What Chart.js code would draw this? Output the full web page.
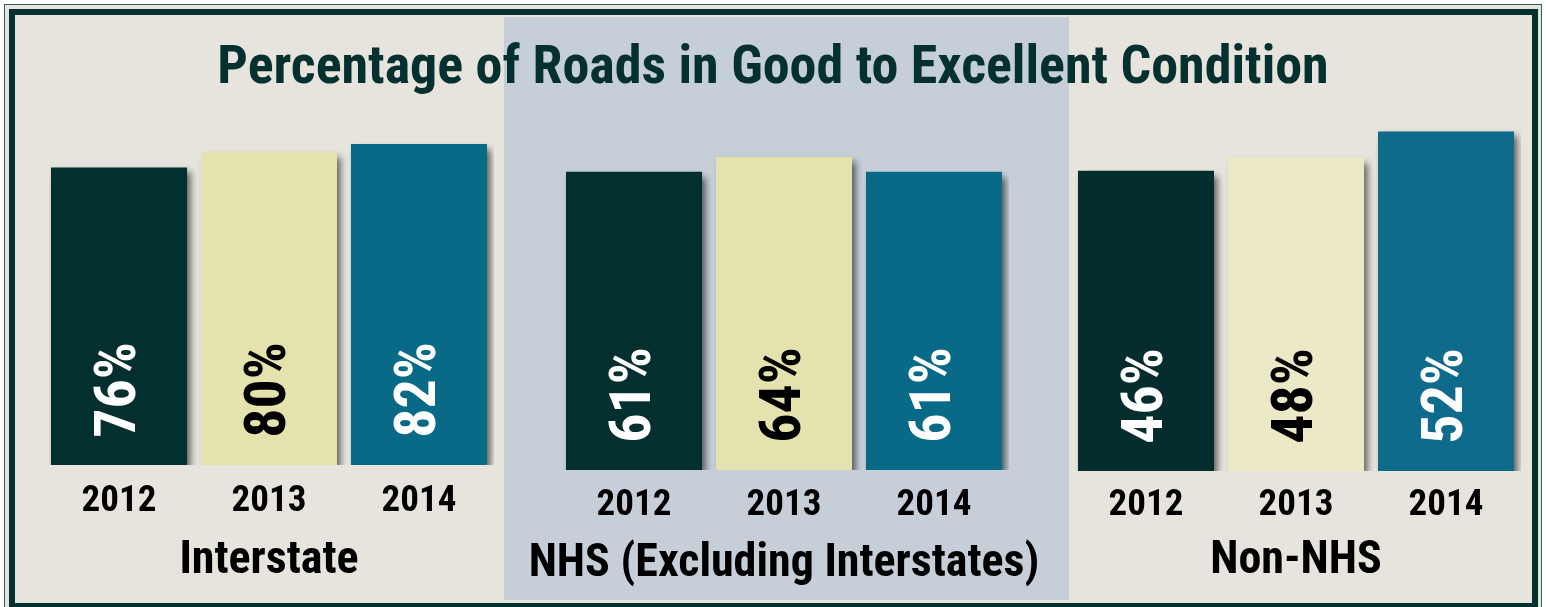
<!DOCTYPE html>
<html>
<head>
<meta charset="utf-8">
<script src="https://cdn.jsdelivr.net/npm/chart.js@4"></script>
<style>
  body { margin:0; background:#fff; width:1546px; height:607px; overflow:hidden; position:relative; }
  .thin { position:absolute; left:4px; top:4px; width:1538px; height:620px; box-sizing:border-box; border:1px solid #35605f; background:#e7e4dd; }
  .thick { position:absolute; left:9px; top:9px; width:1529px; height:600px; box-sizing:border-box; border:6px solid #04302f; background:#e7e4dd; }
  canvas { position:absolute; top:17px; }
  #c1 { left:15px; }
  #c2 { left:504px; background:#c6ced8; }
  #c3 { left:1069px; }
  #title { position:absolute; left:0; top:33px; width:1546px; text-align:center; font-family:Roboto,sans-serif; font-stretch:condensed; font-weight:bold; font-size:54px; color:#04302f; line-height:64px; }
</style>
</head>
<body>
<div class="thin"></div>
<div class="thick"></div>
<canvas id="c1" width="489" height="583"></canvas>
<canvas id="c2" width="565" height="583"></canvas>
<canvas id="c3" width="462" height="583"></canvas>
<div id="title">Percentage of Roads in Good to Excellent Condition</div>

<script>
    // data
    const years = ['2012', '2013', '2014'];
    const groups = ['Interstate', 'NHS (Excluding Interstates)', 'Non-NHS'];
    const interstate = [76, 80, 82];
    const nhs = [61, 64, 61];
    const nonNhs = [46, 48, 52];

    // condensed Roboto, the stretch keyword rides along in the weight slot
    const fam = 'Roboto, sans-serif';
    const wt = 'bold condensed';

    // each panel keeps its own scale, like the original
    var panels = [
        { id: 'c1', values: interstate, max: 88, pad: { left: 29, right: 10, top: 103.5, bottom: 75.6 }, tick: 15, nameY: 544.5,
          colors: ['#042f2f', '#e4e2ad', '#096a88'] },
        { id: 'c2', values: nhs, max: 72, pad: { left: 55, right: 60, top: 101, bottom: 71.6 }, tick: 14, nameY: 547,
          colors: ['#042f2f', '#e4e2ad', '#096a88'] },
        { id: 'c3', values: nonNhs, max: 54, pad: { left: 2, right: 10, top: 101.4, bottom: 71.6 }, tick: 13, nameY: 544,
          colors: ['#062d2e', '#ece9c6', '#0e6b8b'] }
    ];
    const labelColors = ['#ffffff', '#000000', '#ffffff'];

    var barShadow = {
        id: 'barShadow',
        beforeDatasetsDraw(chart) {
            var ctx = chart.ctx;
            ctx.save();
            ctx.shadowColor = 'rgba(0,0,0,0.6)';
            ctx.shadowBlur = 7;
            ctx.shadowOffsetX = 4;
            ctx.shadowOffsetY = 5;
        },
        afterDatasetsDraw(chart) {
            chart.ctx.restore();
        }
    };

    var valueLabels = {
        id: 'valueLabels',
        afterDatasetsDraw(chart) {
            var ctx = chart.ctx;
            var ds = chart.data.datasets[0];
            chart.getDatasetMeta(0).data.forEach(function (bar, i) {
                ctx.save();
                ctx.translate(bar.x, bar.base - 75);
                ctx.rotate(-Math.PI / 2);
                ctx.font = wt + ' 58px ' + fam;
                ctx.fillStyle = labelColors[i];
                ctx.textAlign = 'center';
                ctx.textBaseline = 'middle';
                ctx.fillText(ds.data[i] + '%', 0, 1);
                ctx.restore();
            });
        }
    };

    // group name under the years (too wide for an axis title in the middle panel)
    var groupName = {
        id: 'groupName',
        afterDraw(chart, args, opts) {
            var ctx = chart.ctx;
            var a = chart.chartArea;
            ctx.save();
            ctx.font = wt + ' 46px ' + fam;
            ctx.fillStyle = '#000';
            ctx.textAlign = 'center';
            ctx.textBaseline = 'middle';
            ctx.fillText(chart.data.datasets[0].label, (a.left + a.right) / 2, opts.y);
            ctx.restore();
        }
    };

    panels.forEach(function (p, g) {
        new Chart(document.getElementById(p.id).getContext('2d'), {
            type: 'bar',
            data: {
                labels: years,
                datasets: [{
                    label: groups[g],
                    data: p.values,
                    backgroundColor: p.colors,
                    borderWidth: 0,
                    barPercentage: 1,
                    categoryPercentage: 0.907
                }]
            },
            options: {
                responsive: false,
                devicePixelRatio: 1,
                animation: false,
                layout: { padding: p.pad },
                plugins: { legend: { display: false }, tooltip: { enabled: false }, groupName: { y: p.nameY } },
                scales: {
                    y: { display: false, min: 0, max: p.max },
                    x: {
                        grid: { display: false, drawTicks: true, tickLength: p.tick },
                        border: { display: false },
                        ticks: { color: '#000', padding: 0, maxRotation: 0, autoSkip: false,
                                 font: { family: fam, weight: wt, size: 37 } }
                    }
                }
            },
            plugins: [barShadow, valueLabels, groupName]
        });
    });
</script>
</body>
</html>
